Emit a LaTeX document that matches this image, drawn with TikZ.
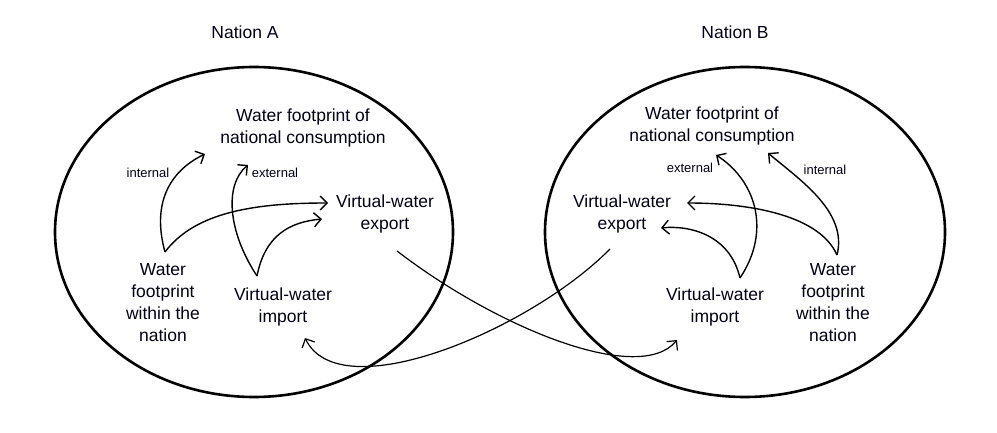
\documentclass[tikz,border=0pt]{standalone}
\usepackage{fontspec}
\setmainfont{Liberation Sans}
\usetikzlibrary{arrows.meta}
\begin{document}
\begin{tikzpicture}[x=1pt,y=-1pt,
  lbl/.style={inner sep=0pt,align=center,text=black!93!blue,font=\fontsize{17.5}{22}\selectfont},
  small/.style={inner sep=0pt,text=black!93!blue,font=\fontsize{13}{15}\selectfont},
  flow/.style={line width=1.4pt,-{Straight Barb[length=7pt,width=14pt,line width=1.4pt]}},
  trade/.style={line width=1.2pt,-{Straight Barb[length=7pt,width=14pt,line width=1.2pt]}}]
\useasboundingbox (0,0) rectangle (997,433);
% ellipses
\draw[line width=2.6pt] (254,232) ellipse [x radius=199, y radius=165];
\draw[line width=2.6pt] (745,232) ellipse [x radius=200, y radius=165];
% titles
\node[lbl] (titleA) at (245,32) {Nation A};
\node[lbl] (titleB) at (735,32) {Nation B};
% Nation A texts
\node[lbl] (consA) at (303,128) {Water footprint of\\national consumption};
\node[lbl] (expA) at (385,214) {Virtual-water\\export};
\node[lbl] (impA) at (283,307) {Virtual-water\\import};
\node[lbl] (wfA) at (163,303) {Water\\footprint\\within the\\nation};
\node[small] (intA) at (148,173) {internal};
\node[small] (extA) at (275,173) {external};
% Nation B texts
\node[lbl] (consB) at (712,126) {Water footprint of\\national consumption};
\node[lbl] (expB) at (622,214) {Virtual-water\\export};
\node[lbl] (impB) at (715,307) {Virtual-water\\import};
\node[lbl] (wfB) at (833,303) {Water\\footprint\\within the\\nation};
\node[small] (extB) at (690,168) {external};
\node[small] (intB) at (825,170) {internal};
% anchor coordinates
\coordinate (wfAo) at (165,252);
\coordinate (impAo) at (257,276);
\coordinate (consAi) at (205,154);
\coordinate (consAe) at (248,165);
\coordinate (expAi1) at (328,203);
\coordinate (expAi2) at (322,219);
\coordinate (expAo) at (397,251);
\coordinate (impAi) at (305,338);
\coordinate (wfBo) at (837,255);
\coordinate (impBo) at (740,278);
\coordinate (consBi) at (768,153);
\coordinate (consBe) at (716,155);
\coordinate (expBi1) at (687,203);
\coordinate (expBi2) at (661,228);
\coordinate (expBo) at (610,249);
\coordinate (impBi) at (677,340);
% Nation A flows
\draw[flow] (wfAo) .. controls (152,205) and (168,172) .. (consAi);
\draw[flow] (wfAo) .. controls (195,212) and (255,203) .. (expAi1);
\draw[flow] (impAo) .. controls (228,232) and (224,185) .. (consAe);
\draw[flow] (impAo) .. controls (265,235) and (290,222) .. (expAi2);
% Nation B flows
\draw[flow] (wfBo) .. controls (848,212) and (800,180) .. (consBi);
\draw[flow] (wfBo) .. controls (818,212) and (740,203) .. (expBi1);
\draw[flow] (impBo) .. controls (772,230) and (755,180) .. (consBe);
\draw[flow] (impBo) .. controls (730,235) and (690,225) .. (expBi2);
% trade flows
\draw[trade] (expAo) .. controls (500,330) and (640,385) .. (impBi);
\draw[trade] (expBo) .. controls (530,330) and (340,410) .. (impAi);
\end{tikzpicture}
\end{document}
